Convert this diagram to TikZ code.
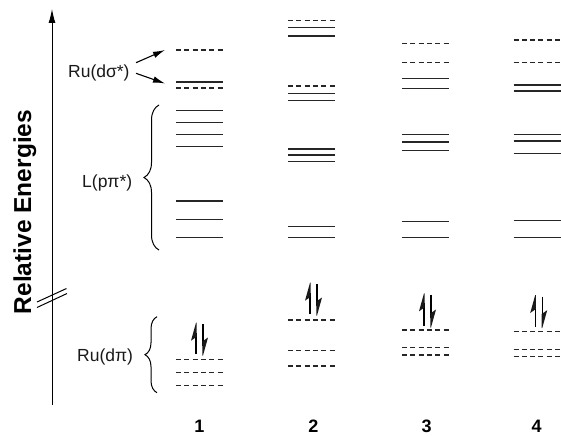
\documentclass[tikz,border=0pt]{standalone}
\usepackage{fontspec}
\setmainfont{Liberation Sans}
\usetikzlibrary{arrows.meta,decorations.pathreplacing}
\newcommand\spinpair[3]{%
 \draw[spinline] (#1-3.5,#3) -- (#1-3.5,#2+10);
 \fill[spinhead] (#1-3.5,#2) -- (#1-8.5,#2+18) -- (#1-2.8,#2+14) -- (#1-2.8,#2) -- cycle;
 \draw[spinline] (#1+3.5,#2+1.5) -- (#1+3.5,#3-8);
 \fill[spinhead] (#1+3.5,#3+1.5) -- (#1+8.5,#3-16.5) -- (#1+2.8,#3-12.5) -- (#1+2.8,#3+1.5) -- cycle;
}
\begin{document}
\begin{tikzpicture}[x=1pt,y=-1pt,
  lvl/.style={line width=1.3pt,draw=black!85},
  dlvl/.style={line width=1.3pt,draw=black!85,dash pattern=on 5pt off 3.3pt},
  lbl/.style={font=\fontsize{17.5}{20}\selectfont,inner sep=0pt,text=black!90},
  num/.style={font=\fontsize{18}{20}\selectfont\bfseries,inner sep=0pt,anchor=base},
  ptr/.style={line width=1.1pt,-{Latex[length=12pt,width=6.5pt]}},
  brcA/.style={decorate,line width=1pt,decoration={brace,amplitude=15pt}},
  brcB/.style={decorate,line width=1pt,decoration={brace,amplitude=12pt}},
  spinline/.style={line width=1.3pt},
  spinhead/.style={fill=black!90,draw=none},
]
\useasboundingbox (0,0) rectangle (561,436);
% axis
\coordinate (ax0) at (52,405);
\coordinate (ax1) at (52,9);
\draw[line width=1pt,-{Latex[length=14pt,width=7pt]}] (ax0) -- (ax1);
\coordinate (bk1a) at (37,302); \coordinate (bk1b) at (66.5,288.5);
\coordinate (bk2a) at (37,307.5); \coordinate (bk2b) at (67,293.5);
\draw[line width=1pt] (bk1a) -- (bk1b) (bk2a) -- (bk2b);
\node[font=\fontsize{24.5}{26}\selectfont\bfseries,rotate=90,anchor=base,inner sep=0pt] (rel) at (31,212) {Relative Energies};
% labels
\node[lbl,anchor=base west] (sig) at (68,77) {Ru(dσ*)};
\node[lbl,anchor=base west] (lpi) at (82,187) {L(pπ*)};
\node[lbl,anchor=base west] (dpi) at (77,361.7) {Ru(dπ)};
\coordinate (s1a) at (136,62.7); \coordinate (s1b) at (165,50);
\coordinate (s2a) at (136,73.3); \coordinate (s2b) at (165,83.5);
\draw[ptr] (s1a) -- (s1b);
\draw[ptr] (s2a) -- (s2b);
\coordinate (bAa) at (159,250); \coordinate (bAb) at (159,105);
\draw[brcA] (bAa) -- (bAb);
\coordinate (bBa) at (157,392.7); \coordinate (bBb) at (157,316.7);
\draw[brcB] (bBa) -- (bBb);
% column 1
\foreach \y in {82,110.7,122.7,134.7,146.7,201,219.7,237.7} \draw[lvl] (176,\y) -- (223,\y);
\foreach \y in {50,88,359.3,372.7,385.3} \draw[dlvl] (176,\y) -- (223,\y);
\spinpair{199.5}{322.7}{354}
% column 2
\foreach \y in {27.3,36,93.3,100.7,149,155,161.3,226.7,237.3} \draw[lvl] (288,\y) -- (335,\y);
\foreach \y in {20.7,86,320,350.7,366} \draw[dlvl] (288,\y) -- (335,\y);
\spinpair{313.5}{282.7}{314}
% column 3
\foreach \y in {78.3,88.3,134.7,142,150.7,221.7,237.3} \draw[lvl] (402,\y) -- (449,\y);
\foreach \y in {43.3,62.7,330,347.3,355} \draw[dlvl] (402,\y) -- (449,\y);
\spinpair{427.5}{293.3}{326}
% column 4
\foreach \y in {85,91,134.7,141,153.3,220.7,237.3} \draw[lvl] (513.5,\y) -- (560.5,\y);
\foreach \y in {40,62.7,331.3,349.3,356.7} \draw[dlvl] (513.5,\y) -- (560.5,\y);
\spinpair{538.7}{295}{326.7}
% numbers
\node[num] (n1) at (199.3,432) {1};
\node[num] (n2) at (313.3,432) {2};
\node[num] (n3) at (426.7,432) {3};
\node[num] (n4) at (536.7,432) {4};
\end{tikzpicture}
\end{document}
